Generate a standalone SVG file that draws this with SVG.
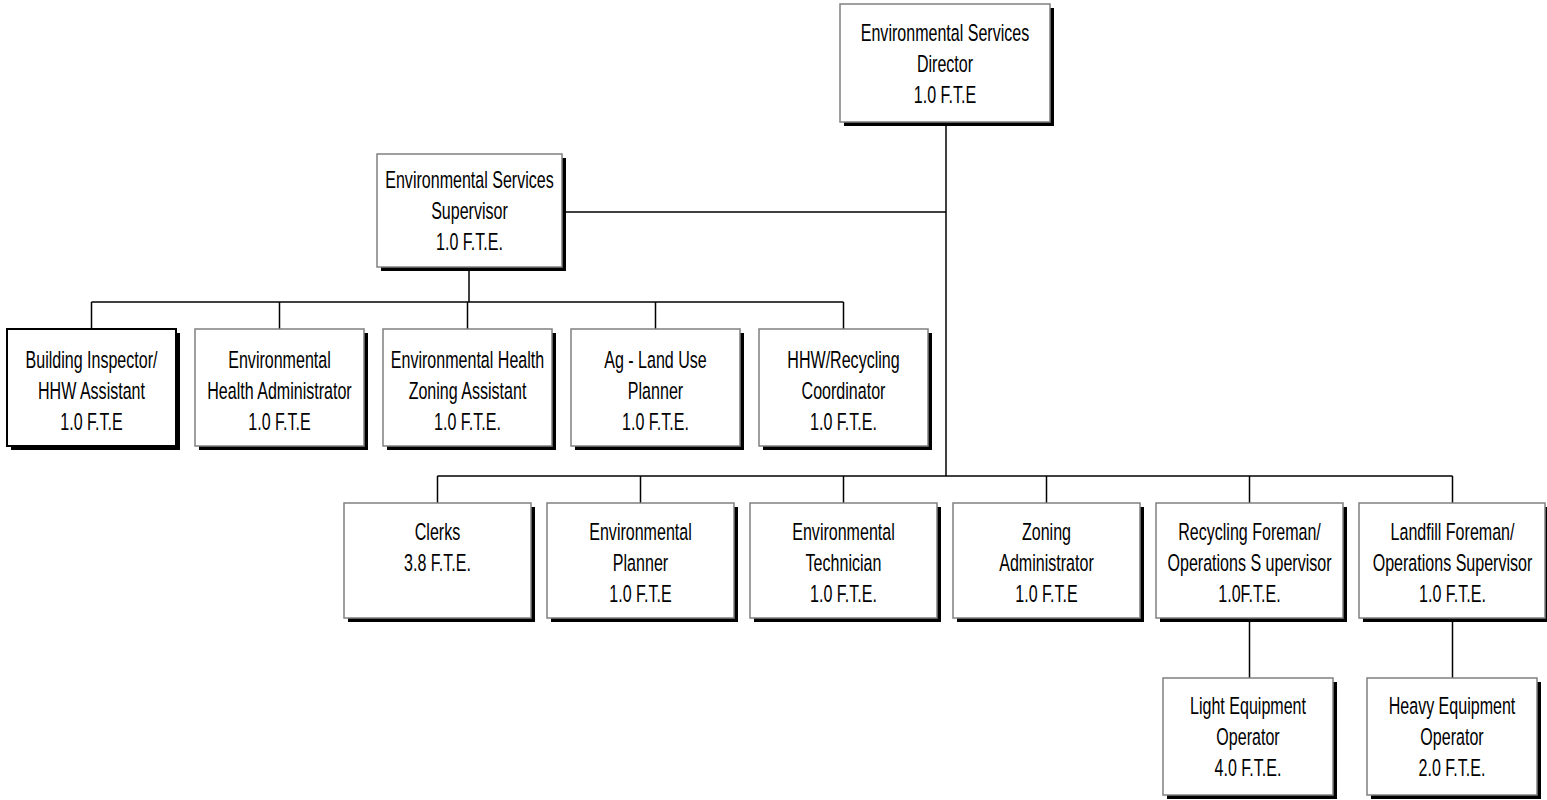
<svg xmlns="http://www.w3.org/2000/svg" width="1547" height="800" viewBox="0 0 1547 800">
  <defs>
    <style>
      .box { fill: #ffffff; stroke: #808080; stroke-width: 1.5; }
      .box.dark { stroke: #000000; stroke-width: 2; }
      .shadow { fill: #000000; }
      .lbl { font-family: "Liberation Sans", Arial, sans-serif; font-size: 23.5px; fill: #000000; text-anchor: middle; }
      .wire { stroke: #000000; stroke-width: 1.5; fill: none; }
    </style>
  </defs>
  <rect width="1547" height="800" fill="#ffffff"/>

  <!-- connectors -->
  <g id="connectors" class="wire">
    <path d="M946 122 V476"/>
    <path d="M562 212 H946"/>
    <path d="M469 267 V302"/>
    <path d="M91.5 302 H843.5"/>
    <path d="M91.5 302 V329 M279.5 302 V329 M467.5 302 V329 M655.5 302 V329 M843.5 302 V329"/>
    <path d="M437.5 476 H1452.5"/>
    <path d="M437.5 476 V503 M640.5 476 V503 M843.5 476 V503 M1046.5 476 V503 M1249.5 476 V503 M1452.5 476 V503"/>
    <path d="M1249.5 618 V678 M1452.5 618 V678"/>
  </g>

  <!-- top -->
  <g id="director">
    <rect class="shadow" x="844" y="8" width="210" height="118"/>
    <rect class="box" x="840" y="4" width="210" height="118"/>
    <text class="lbl" transform="translate(945 41) scale(0.683 1)">Environmental Services</text>
    <text class="lbl" transform="translate(945 72) scale(0.683 1)">Director</text>
    <text class="lbl" transform="translate(945 103) scale(0.683 1)">1.0 F.T.E</text>
  </g>

  <g id="supervisor">
    <rect class="shadow" x="381" y="158" width="185" height="113"/>
    <rect class="box" x="377" y="154" width="185" height="113"/>
    <text class="lbl" transform="translate(469.5 188) scale(0.683 1)">Environmental Services</text>
    <text class="lbl" transform="translate(469.5 219) scale(0.683 1)">Supervisor</text>
    <text class="lbl" transform="translate(469.5 250) scale(0.683 1)">1.0 F.T.E.</text>
  </g>

  <!-- row 1 -->
  <g id="building-inspector">
    <rect class="shadow" x="11" y="333" width="169" height="117"/>
    <rect class="box dark" x="7" y="329" width="169" height="117"/>
    <text class="lbl" transform="translate(91.5 368) scale(0.683 1)">Building Inspector/</text>
    <text class="lbl" transform="translate(91.5 399) scale(0.683 1)">HHW Assistant</text>
    <text class="lbl" transform="translate(91.5 430) scale(0.683 1)">1.0 F.T.E</text>
  </g>
  <g id="env-health-admin">
    <rect class="shadow" x="199" y="333" width="169" height="117"/>
    <rect class="box" x="195" y="329" width="169" height="117"/>
    <text class="lbl" transform="translate(279.5 368) scale(0.683 1)">Environmental</text>
    <text class="lbl" transform="translate(279.5 399) scale(0.683 1)">Health Administrator</text>
    <text class="lbl" transform="translate(279.5 430) scale(0.683 1)">1.0 F.T.E</text>
  </g>
  <g id="env-health-zoning">
    <rect class="shadow" x="387" y="333" width="169" height="117"/>
    <rect class="box" x="383" y="329" width="169" height="117"/>
    <text class="lbl" transform="translate(467.5 368) scale(0.683 1)">Environmental Health</text>
    <text class="lbl" transform="translate(467.5 399) scale(0.683 1)">Zoning Assistant</text>
    <text class="lbl" transform="translate(467.5 430) scale(0.683 1)">1.0 F.T.E.</text>
  </g>
  <g id="ag-land-use">
    <rect class="shadow" x="575" y="333" width="169" height="117"/>
    <rect class="box" x="571" y="329" width="169" height="117"/>
    <text class="lbl" transform="translate(655.5 368) scale(0.683 1)">Ag - Land Use</text>
    <text class="lbl" transform="translate(655.5 399) scale(0.683 1)">Planner</text>
    <text class="lbl" transform="translate(655.5 430) scale(0.683 1)">1.0 F.T.E.</text>
  </g>
  <g id="hhw-recycling">
    <rect class="shadow" x="763" y="333" width="169" height="117"/>
    <rect class="box" x="759" y="329" width="169" height="117"/>
    <text class="lbl" transform="translate(843.5 368) scale(0.683 1)">HHW/Recycling</text>
    <text class="lbl" transform="translate(843.5 399) scale(0.683 1)">Coordinator</text>
    <text class="lbl" transform="translate(843.5 430) scale(0.683 1)">1.0 F.T.E.</text>
  </g>

  <!-- row 2 -->
  <g id="clerks">
    <rect class="shadow" x="348" y="507" width="187" height="115"/>
    <rect class="box" x="344" y="503" width="187" height="115"/>
    <text class="lbl" transform="translate(437.5 540) scale(0.683 1)">Clerks</text>
    <text class="lbl" transform="translate(437.5 571) scale(0.683 1)">3.8 F.T.E.</text>
  </g>
  <g id="env-planner">
    <rect class="shadow" x="551" y="507" width="187" height="115"/>
    <rect class="box" x="547" y="503" width="187" height="115"/>
    <text class="lbl" transform="translate(640.5 540) scale(0.683 1)">Environmental</text>
    <text class="lbl" transform="translate(640.5 571) scale(0.683 1)">Planner</text>
    <text class="lbl" transform="translate(640.5 602) scale(0.683 1)">1.0 F.T.E</text>
  </g>
  <g id="env-technician">
    <rect class="shadow" x="754" y="507" width="187" height="115"/>
    <rect class="box" x="750" y="503" width="187" height="115"/>
    <text class="lbl" transform="translate(843.5 540) scale(0.683 1)">Environmental</text>
    <text class="lbl" transform="translate(843.5 571) scale(0.683 1)">Technician</text>
    <text class="lbl" transform="translate(843.5 602) scale(0.683 1)">1.0 F.T.E.</text>
  </g>
  <g id="zoning-admin">
    <rect class="shadow" x="957" y="507" width="187" height="115"/>
    <rect class="box" x="953" y="503" width="187" height="115"/>
    <text class="lbl" transform="translate(1046.5 540) scale(0.683 1)">Zoning</text>
    <text class="lbl" transform="translate(1046.5 571) scale(0.683 1)">Administrator</text>
    <text class="lbl" transform="translate(1046.5 602) scale(0.683 1)">1.0 F.T.E</text>
  </g>
  <g id="recycling-foreman">
    <rect class="shadow" x="1160" y="507" width="187" height="115"/>
    <rect class="box" x="1156" y="503" width="187" height="115"/>
    <text class="lbl" transform="translate(1249.5 540) scale(0.683 1)">Recycling Foreman/</text>
    <text class="lbl" transform="translate(1249.5 571) scale(0.683 1)">Operations S upervisor</text>
    <text class="lbl" transform="translate(1249.5 602) scale(0.683 1)">1.0F.T.E.</text>
  </g>
  <g id="landfill-foreman">
    <rect class="shadow" x="1363" y="507" width="186" height="115"/>
    <rect class="box" x="1359" y="503" width="186" height="115"/>
    <text class="lbl" transform="translate(1452.5 540) scale(0.683 1)">Landfill Foreman/</text>
    <text class="lbl" transform="translate(1452.5 571) scale(0.683 1)">Operations Supervisor</text>
    <text class="lbl" transform="translate(1452.5 602) scale(0.683 1)">1.0 F.T.E.</text>
  </g>

  <!-- row 3 -->
  <g id="light-equipment">
    <rect class="shadow" x="1167" y="682" width="170" height="117"/>
    <rect class="box" x="1163" y="678" width="170" height="117"/>
    <text class="lbl" transform="translate(1248 714) scale(0.683 1)">Light Equipment</text>
    <text class="lbl" transform="translate(1248 745) scale(0.683 1)">Operator</text>
    <text class="lbl" transform="translate(1248 776) scale(0.683 1)">4.0 F.T.E.</text>
  </g>
  <g id="heavy-equipment">
    <rect class="shadow" x="1371" y="682" width="170" height="117"/>
    <rect class="box" x="1367" y="678" width="170" height="117"/>
    <text class="lbl" transform="translate(1452 714) scale(0.683 1)">Heavy Equipment</text>
    <text class="lbl" transform="translate(1452 745) scale(0.683 1)">Operator</text>
    <text class="lbl" transform="translate(1452 776) scale(0.683 1)">2.0 F.T.E.</text>
  </g>
</svg>
